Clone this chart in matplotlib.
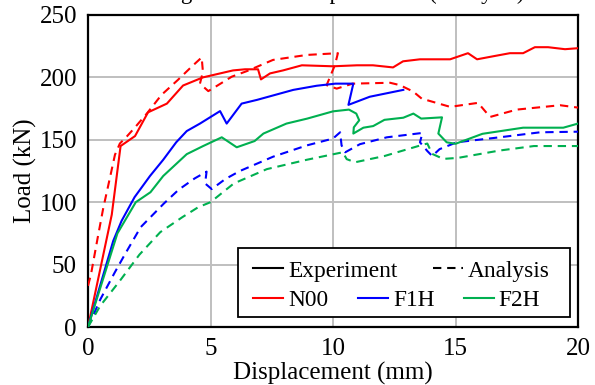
import matplotlib.pyplot as plt
from matplotlib.lines import Line2D
from matplotlib.patches import Rectangle

plt.rcParams['font.family'] = ['Liberation Serif', 'DejaVu Serif']
plt.rcParams['font.size'] = 18

# === Datos (mm, kN) ===
n00_exp_x = [0, 0.97, 1.33, 1.92, 2.45, 3.22, 3.88, 4.69, 5.92, 6.41, 6.94, 7.06, 7.43,
             7.96, 8.73, 10.0, 10.98, 11.63, 12.45, 12.86, 13.55, 14.78, 15.51, 15.88,
             16.53, 17.22, 17.76, 18.24, 18.78, 19.47, 20.0]
n00_exp_y = [0, 90, 145, 153, 172, 179, 193.5, 200, 205.6, 206.5, 206.5, 198.4, 203.2,
             205.6, 209.7, 208.9, 209.7, 209.7, 208, 212.9, 214.5, 214.5, 219.4, 214.5,
             216.9, 219.4, 219.4, 224.2, 224.2, 222.6, 223.4]

n00_ana_x = [0, 0.12, 0.4, 0.62, 0.9, 1.1, 1.3, 1.6, 1.92, 2.4, 3.0, 3.67, 4.23, 4.64,
             4.69, 4.57, 4.91, 5.31, 5.87, 6.48, 7.55, 8.93, 10.2, 10.08, 9.74, 10.15,
             10.8, 12.33, 12.73, 13.27, 13.62, 14.78, 15.92, 16.41, 17.5, 19.27, 20.0]
n00_ana_y = [33, 42, 72, 95, 120, 138, 147, 153, 160, 171, 186, 198, 208.6, 216,
             204.6, 195, 189, 193.8, 200.6, 205, 214, 218, 219.4, 210, 193.8, 191,
             195, 195.7, 193.8, 188.7, 183, 176.4, 179.6, 168.3, 174.2, 177.7, 175.8]

f1h_exp_x = [0, 1.03, 1.37, 1.9, 2.53, 3.07, 3.6, 4.03, 4.57, 5.39, 5.66, 6.27, 6.9,
             8.38, 9.33, 10.1, 10.83, 10.63, 11.5, 12.87]
f1h_exp_y = [0, 69, 85, 104, 121, 134, 148, 157, 163, 173, 163, 179, 182,
             190, 193.3, 195, 195, 178, 184.5, 190]

f1h_ana_x = [0, 0.5, 1.1, 1.5, 2.15, 2.65, 3.1, 3.7, 4.35, 4.84, 4.78, 5.05, 5.6, 6.2,
             7.56, 8.93, 10.0, 10.29, 10.35, 10.5, 11.1, 12.2, 13.65, 13.55, 13.85,
             14.05, 14.35, 15.05, 16.8, 18.45, 20.0]
f1h_ana_y = [0, 22, 44, 58, 80, 90, 99, 110, 119, 124.5, 115, 110.5, 118.5, 125,
             136.5, 145.5, 151, 156, 145.5, 140, 146.5, 152, 155.5, 148, 141,
             137, 142.5, 148, 152, 156, 156.5]

f2h_exp_x = [0, 1.2, 1.95, 2.55, 3.07, 4.03, 4.7, 5.46, 6.07, 6.8, 7.16, 8.1, 8.95,
             10.0, 10.65, 10.95, 11.07, 10.85, 10.83, 11.24, 11.64, 12.1, 12.87, 13.28,
             13.6, 14.45, 14.3, 14.64, 15.0, 16.1, 17.76, 19.4, 20.0]
f2h_exp_y = [0, 75, 100, 108, 121, 138.5, 145, 152, 144, 149, 155, 163, 167,
             172.8, 174.2, 171, 165.6, 160, 155, 159.7, 161, 166, 167.7, 171,
             167, 168, 155, 148, 146.8, 154.8, 159.7, 159.7, 163]

f2h_ana_x = [0, 0.5, 1.3, 2.1, 2.95, 3.85, 4.5, 5.0, 5.95, 7.3, 8.93, 10.15, 10.4,
             10.56, 10.9, 12.1, 13.55, 13.85, 14.05, 14.5, 15.1, 16.8, 18.2, 20.0]
f2h_ana_y = [0, 17, 37, 58, 76, 88, 96, 100, 115, 126.5, 134, 139, 140,
             134.5, 132, 137, 145.4, 147, 138.7, 134.7, 135.5, 141.4, 145, 145]

x_ticks = [0, 5, 10, 15, 20]
y_ticks = [0, 50, 100, 150, 200, 250]

rojo = '#ff0000'
azul = '#0000ff'
verde = '#00b050'
lw = 1.5
guion = (4, 2.8)

# === Figura ===
fig = plt.figure(figsize=(5.95, 3.85), dpi=100)
ax = fig.add_axes([88 / 595, 1 - 327 / 385, 490 / 595, 312 / 385])

ax.plot(n00_exp_x, n00_exp_y, color=rojo, lw=lw, zorder=3)
ax.plot(n00_ana_x, n00_ana_y, color=rojo, lw=lw, dashes=guion, zorder=3)
ax.plot(f1h_exp_x, f1h_exp_y, color=azul, lw=lw, zorder=3)
ax.plot(f1h_ana_x, f1h_ana_y, color=azul, lw=lw, dashes=guion, zorder=3)
ax.plot(f2h_exp_x, f2h_exp_y, color=verde, lw=lw, zorder=3)
ax.plot(f2h_ana_x, f2h_ana_y, color=verde, lw=lw, dashes=guion, zorder=3)

ax.set_xlim(0, 20)
ax.set_ylim(0, 250)
ax.set_xticks(x_ticks)
ax.set_yticks(y_ticks)
ax.grid(True, color='#bfbfbf', lw=1.4, zorder=0)
ax.set_axisbelow(True)
ax.tick_params(length=0, pad=8, labelsize=18)
for s in ax.spines.values():
    s.set_linewidth(1.6)
    s.set_color('black')

ax.set_xlabel("Displacement (mm)", labelpad=1)
ax.set_ylabel("Load (kN)", labelpad=2)

# título recortado en la parte superior (como en la imagen original)
fig.text(525 / 595, 1 + 0.5 / 385, "Long-term beam displacement (Analysis)",
         ha='right', va='baseline', fontsize=16.5)

# === Leyenda ===
caja = Rectangle((0.306, 0.032), 0.678, 0.221, transform=ax.transAxes,
                 facecolor='white', edgecolor='black', lw=1.3, zorder=5)
ax.add_patch(caja)

fila1 = [Line2D([], [], color='black', lw=1.5),
         Line2D([], [], color='black', lw=1.5, dashes=guion)]
fila2 = [Line2D([], [], color=rojo, lw=1.5),
         Line2D([], [], color=azul, lw=1.5),
         Line2D([], [], color=verde, lw=1.5)]

leg1 = ax.legend(fila1, ["Experiment", "Analysis"], ncol=2, frameon=False,
                 loc='center left', bbox_to_anchor=(0.337, 0.1795),
                 borderpad=0, borderaxespad=0, handlelength=1.29,
                 handletextpad=0.22, columnspacing=1.5, fontsize=16.8)
leg1.set_zorder(6)
ax.add_artist(leg1)
leg2 = ax.legend(fila2, ["N00", "F1H", "F2H"], ncol=3, frameon=False,
                 loc='center left', bbox_to_anchor=(0.337, 0.0865),
                 borderpad=0, borderaxespad=0, handlelength=1.29,
                 handletextpad=0.22, columnspacing=1.25, fontsize=16.8)
leg2.set_zorder(6)

plt.savefig("out.png", dpi=100)
